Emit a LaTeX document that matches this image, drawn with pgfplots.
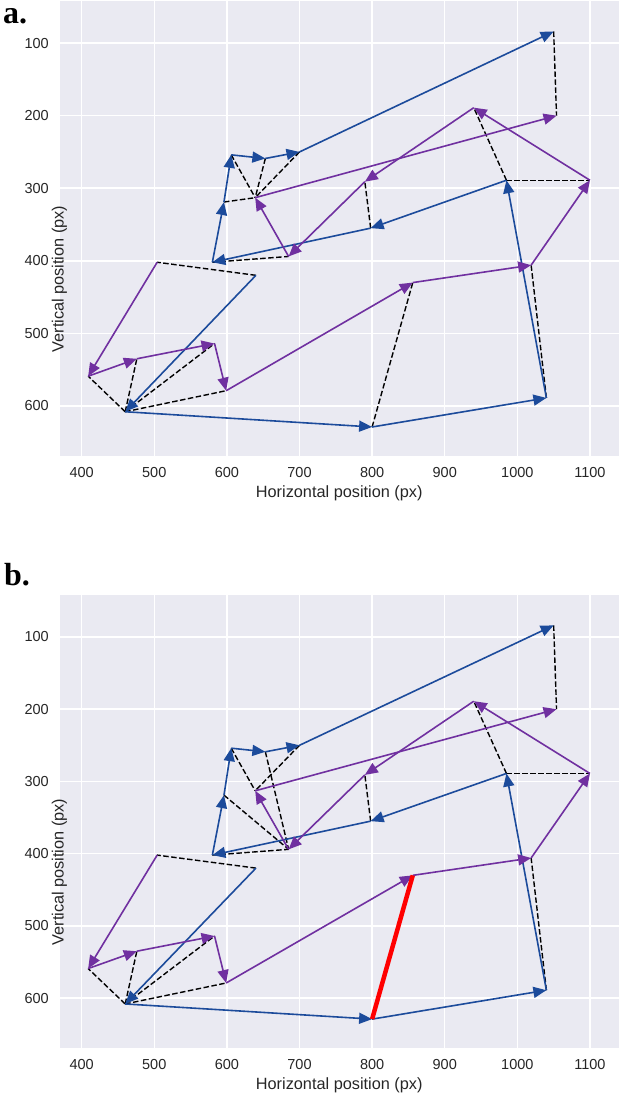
\documentclass[border=0pt]{standalone}
\usepackage{pgfplots}
\pgfplotsset{compat=1.18}
\usepackage{pgfplotstable}
\usepackage{fontspec}
\setmainfont{Liberation Sans}
\newfontfamily\panelfont{Liberation Serif}
\usetikzlibrary{arrows.meta}

\definecolor{seqblue}{HTML}{1C4B9B}
\definecolor{seqpurple}{HTML}{7030A0}
\definecolor{panelbg}{HTML}{EAEAF2}
\definecolor{labelgray}{HTML}{262626}

% Scanpath 1 (blue): each row is one saccade, from (x,y) to (ex,ey)
\pgfplotstableread{
x    y    ex   ey
640  420  460  608
460  608  800  629
800  629  1040 589
1040 589  985  289
985  289  798  355
798  355  580  402
580  402  596  319
596  319  606  254
606  254  653  259
653  259  700  250
700  250  1050 84
}\bluepath

% Scanpath 2 (purple)
\pgfplotstableread{
x    y    ex   ey
504  402  409  559
409  559  476  535
476  535  583  514
583  514  599  579
599  579  856  430
856  430  1019 406
1019 406  1100 289
1100 289  940  189
940  189  790  291
790  291  685  394
685  394  639  313
639  313  1054 200
}\purplepath

% Fixation alignment, panel a
\pgfplotstableread{
x    y    ex   ey
640  420  504  402
460  608  409  559
460  608  476  535
460  608  583  514
460  608  599  579
800  629  856  430
1040 589  1019 406
985  289  1100 289
985  289  940  189
798  355  790  291
580  402  685  394
596  319  639  313
606  254  639  313
653  259  639  313
700  250  639  313
1050 84   1054 200
}\alignA

% Fixation alignment, panel b (the highlighted pair is drawn separately)
\pgfplotstableread{
x    y    ex   ey
640  420  504  402
460  608  409  559
460  608  476  535
460  608  583  514
460  608  599  579
1040 589  1019 406
985  289  1100 289
985  289  940  189
798  355  790  291
580  402  685  394
596  319  685  394
606  254  639  313
653  259  685  394
700  250  639  313
1050 84   1054 200
}\alignB

\pgfplotsset{
  gazeaxis/.style={
    scale only axis, width=559.5pt,
    xmin=369.5, xmax=1140, ymin=42, ymax=669, y dir=reverse,
    axis background/.style={fill=panelbg},
    axis line style={draw=none},
    major tick length=0pt,
    grid=major, major grid style={white, line width=1.5pt},
    xtick={400,500,...,1100}, ytick={100,200,...,600},
    /pgf/number format/assume math mode=true,
    /pgf/number format/1000 sep={},
    tick label style={font=\fontsize{14.5}{16}\selectfont, text=labelgray},
    xticklabel style={anchor=center, inner sep=0pt, yshift=-16.7pt},
    yticklabel style={anchor=east, inner sep=0pt, xshift=-10.5pt},
    label style={font=\fontsize{16.3}{19}\selectfont, text=labelgray},
    xlabel={Horizontal position (px)},
    ylabel={Vertical position (px)},
    xlabel style={at={(axis description cs:0.5,0)}, anchor=center, yshift=-37.5pt},
    ylabel style={at={(axis description cs:0,0.5)}, anchor=center, xshift=-50.5pt},
    clip=false,
  },
  saccadeA/.style={seqblue, line width=1.6pt,
    -{Triangle[length=13pt,width=11pt]},
    quiver={u=\thisrow{ex}-\thisrow{x}, v=\thisrow{ey}-\thisrow{y}}},
  saccadeB/.style={seqpurple, line width=1.6pt,
    -{Triangle[length=13pt,width=11pt]},
    quiver={u=\thisrow{ex}-\thisrow{x}, v=\thisrow{ey}-\thisrow{y}}},
  matchline/.style={black, line width=1.4pt, dash pattern=on 5.5pt off 2.5pt,
    quiver={u=\thisrow{ex}-\thisrow{x}, v=\thisrow{ey}-\thisrow{y}}},
}

\begin{document}
\begin{tikzpicture}
\path[use as bounding box] (0,0) rectangle (621pt,-1098pt);

\begin{axis}[gazeaxis, height=455pt, at={(59.5pt,-1pt)}, anchor=north west]
  \addplot[matchline] table {\alignA};
  \addplot[saccadeA] table {\bluepath};
  \addplot[saccadeB] table {\purplepath};
\end{axis}

\begin{axis}[gazeaxis, height=453pt, at={(59.5pt,-595pt)}, anchor=north west]
  \addplot[matchline] table {\alignB};
  \addplot[saccadeA] table {\bluepath};
  \addplot[saccadeB] table {\purplepath};
  \addplot[red, line width=4.5pt] coordinates {(800,629) (856,430)};
\end{axis}

\node[anchor=base west, inner sep=0pt, font=\panelfont\bfseries\fontsize{32}{32}\selectfont] at (3pt,-23pt) {a.};
\node[anchor=base west, inner sep=0pt, font=\panelfont\bfseries\fontsize{32}{32}\selectfont] at (4pt,-585pt) {b.};
\end{tikzpicture}
\end{document}
